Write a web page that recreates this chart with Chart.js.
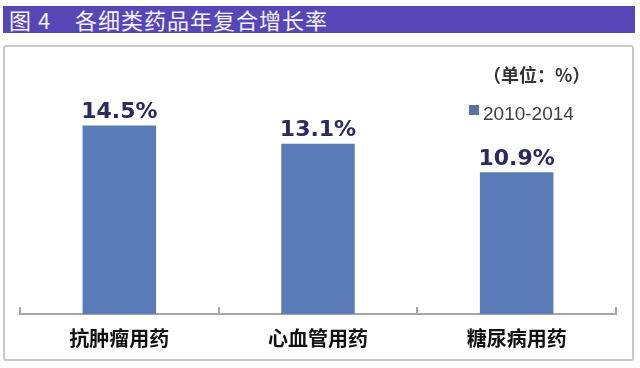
<!DOCTYPE html>
<html>
<head>
<meta charset="utf-8">
<script src="https://cdn.jsdelivr.net/npm/chart.js@4"></script>
<style>
  body { margin: 0; background: #fff; width: 640px; height: 368px; position: relative; overflow: hidden; }
  #titlebar {
    position: absolute; left: 3px; top: 6px; width: 632px; height: 27px;
    background: #5846b6; color: #f4f2ff;
    font-family: "Noto Sans CJK SC", sans-serif; font-size: 22px; line-height: 27px;
    letter-spacing: 1px; white-space: pre;
  }
  #titlebar .num { position: absolute; left: 6px; }
  #titlebar .txt { position: absolute; left: 72px; }
  #box {
    position: absolute; left: 3px; top: 45px; width: 627px; height: 312px;
    border: 2px solid #c8c8c8; border-radius: 3px;
  }
  #chart { position: absolute; left: 5px; top: 47px; }
  #unit {
    position: absolute; left: 483px; top: 61px;
    font-family: "Noto Sans CJK SC", sans-serif; font-size: 18px; font-weight: bold; color: #333;
  }
  #legend {
    position: absolute; left: 469px; top: 103px;
    font-family: "Liberation Sans", sans-serif; font-size: 19px; color: #404040;
  }
  #legend i { display: inline-block; width: 10px; height: 10px; background: #5b70a6; margin-right: 4px; vertical-align: 5px; }
</style>
</head>
<body>
<div id="titlebar"><span class="num">图 4</span><span class="txt">各细类药品年复合增长率</span></div>
<div id="box"></div>
<canvas id="chart" width="627" height="318"></canvas>
<div id="unit">（单位：%）</div>
<div id="legend"><i></i>2010-2014</div>
<script>
const categories = ["抗肿瘤用药", "心血管用药", "糖尿病用药"];
const seriesName = "2010-2014";
const growth = [14.5, 13.1, 10.9];

// value labels above the bars
const barLabels = {
  id: "barLabels",
  afterDatasetsDraw(chart) {
    const ctx = chart.ctx;
    const meta = chart.getDatasetMeta(0);
    ctx.save();
    ctx.font = "bold 22px 'DejaVu Sans'";
    ctx.fillStyle = "#2b2a5e";
    ctx.textAlign = "center";
    ctx.textBaseline = "bottom";
    meta.data.forEach(function (bar, i) {
      ctx.fillText(growth[i].toFixed(1) + "%", bar.x, bar.y - 2);
    });
    ctx.restore();
  }
};

// small tick marks pointing up from the axis, between categories
const upTicks = {
  id: "upTicks",
  afterDraw(chart) {
    const ctx = chart.ctx;
    const x = chart.scales.x;
    const y0 = chart.chartArea.bottom;
    ctx.save();
    ctx.strokeStyle = "#a6a6a6";
    ctx.lineWidth = 2;
    for (let i = 0; i <= categories.length; i++) {
      const px = Math.round(x.getPixelForValue(i - 0.5));
      ctx.beginPath();
      ctx.moveTo(px, y0);
      ctx.lineTo(px, y0 - 7);
      ctx.stroke();
    }
    ctx.restore();
  }
};

new Chart(document.getElementById("chart"), {
  type: "bar",
  data: {
    labels: categories,
    datasets: [{
      label: seriesName,
      data: growth,
      backgroundColor: "#5a7ab8",
      barPercentage: 0.37,
      categoryPercentage: 1
    }]
  },
  options: {
    responsive: false,
    animation: false,
    layout: { padding: { left: 15, right: 16, top: 7, bottom: 3 } },
    plugins: { legend: { display: false }, tooltip: { enabled: false } },
    scales: {
      y: { display: false, min: 0, max: 20 },
      x: {
        grid: { display: false, drawTicks: false },
        border: { display: true, color: "#a6a6a6", width: 2 },
        ticks: {
          padding: 12,
          color: "#111",
          font: { family: "'Noto Sans CJK SC'", size: 20, weight: "bold" }
        }
      }
    }
  },
  plugins: [barLabels, upTicks]
});
</script>
</body>
</html>
